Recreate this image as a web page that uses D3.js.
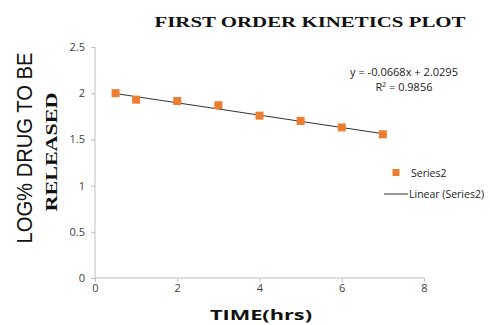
<!DOCTYPE html>
<html>
<head>
<meta charset="utf-8">
<script src="https://cdn.jsdelivr.net/npm/d3@7"></script>
<style>
  body { margin: 0; background: #fff; }
  svg { display: block; }
</style>
</head>
<body>
<svg width="490" height="325"></svg>
<script>
// data
const times = [0.5, 1, 2, 3, 4, 5, 6, 7];
const logReleased = [2.0, 1.93, 1.915, 1.87, 1.757, 1.70, 1.63, 1.555];
const xTicks = [0, 2, 4, 6, 8];
const yTicks = [0, 0.5, 1, 1.5, 2, 2.5];
const slope = -0.0668, intercept = 2.0295;

const svg = d3.select('svg');

const x = d3.scaleLinear().domain([0, 8]).range([95, 424]);
const y = d3.scaleLinear().domain([0, 2.5]).range([278, 47]);

// axes
const yAxis = svg.append('g').attr('transform', 'translate(95,0)')
  .call(d3.axisLeft(y).tickValues(yTicks).tickSize(4).tickPadding(6)
    .tickFormat(d3.format('')));
const xAxis = svg.append('g').attr('transform', 'translate(0,278)')
  .call(d3.axisBottom(x).tickValues(xTicks).tickSize(4).tickPadding(2));

[yAxis, xAxis].forEach(function(a) {
  a.select('.domain').remove();
  a.selectAll('line').attr('stroke', '#c0c0c0');
  a.selectAll('text').attr('fill', '#404040')
    .style('font-family', 'Open Sans, sans-serif').style('font-size', '11px');
});
// axis lines without end caps
svg.append('line').attr('x1', 95).attr('x2', 95).attr('y1', y(2.5)).attr('y2', y(0))
  .attr('stroke', '#c0c0c0');
svg.append('line').attr('x1', x(0)).attr('x2', x(8)).attr('y1', y(0)).attr('y2', y(0))
  .attr('stroke', '#c0c0c0');

// trendline
svg.append('line')
  .attr('x1', x(times[0])).attr('y1', y(slope * times[0] + intercept))
  .attr('x2', x(times[times.length - 1]))
  .attr('y2', y(slope * times[times.length - 1] + intercept))
  .attr('stroke', '#333').attr('stroke-width', 1);

// markers
svg.selectAll('rect.pt').data(times).enter().append('rect')
  .attr('class', 'pt')
  .attr('x', function(d) { return x(d) - 4; })
  .attr('y', function(d, i) { return y(logReleased[i]) - 4; })
  .attr('width', 8).attr('height', 8)
  .attr('fill', '#ED7D31');

// title
svg.append('text').attr('x', 310).attr('y', 27).attr('text-anchor', 'middle')
  .attr('textLength', 311).attr('lengthAdjust', 'spacingAndGlyphs')
  .style('font-family', 'Liberation Serif, serif').style('font-weight', 'bold')
  .style('font-size', '15px').attr('fill', '#111')
  .text('FIRST ORDER KINETICS PLOT');

// y title, two lines
svg.append('text').attr('transform', 'translate(32,148) rotate(-90)')
  .attr('text-anchor', 'middle')
  .attr('textLength', 191).attr('lengthAdjust', 'spacingAndGlyphs')
  .style('font-family', 'Liberation Sans, Arial, sans-serif')
  .style('font-size', '22px').attr('fill', '#111')
  .text('LOG% DRUG TO BE');
svg.append('text').attr('transform', 'translate(57,152) rotate(-90)')
  .attr('text-anchor', 'middle')
  .attr('textLength', 119).attr('lengthAdjust', 'spacingAndGlyphs')
  .style('font-family', 'Liberation Serif, serif').style('font-weight', 'bold')
  .style('font-size', '17px').attr('fill', '#111')
  .text('RELEASED');

// x title
svg.append('text').attr('x', 261).attr('y', 320).attr('text-anchor', 'middle')
  .attr('textLength', 102).attr('lengthAdjust', 'spacingAndGlyphs')
  .style('font-family', 'Open Sans, sans-serif').style('font-weight', 'bold')
  .style('font-size', '15px').attr('fill', '#111')
  .text('TIME(hrs)');

// equation
const eq = svg.append('g').style('font-family', 'Open Sans, sans-serif')
  .style('font-size', '10.5px').attr('fill', '#222');
eq.append('text').attr('x', 404).attr('y', 76).attr('text-anchor', 'middle')
  .attr('textLength', 108).attr('lengthAdjust', 'spacingAndGlyphs')
  .text('y = -0.0668x + 2.0295');
eq.append('text').attr('x', 404).attr('y', 91).attr('text-anchor', 'middle')
  .attr('textLength', 57).attr('lengthAdjust', 'spacingAndGlyphs')
  .text('R² = 0.9856');

// legend
const lg = svg.append('g').style('font-family', 'Open Sans, sans-serif')
  .style('font-size', '10.5px').attr('fill', '#222');
lg.append('rect').attr('x', 392.5).attr('y', 169).attr('width', 7).attr('height', 7)
  .attr('fill', '#ED7D31');
lg.append('text').attr('x', 411).attr('y', 176.5).text('Series2');
lg.append('line').attr('x1', 384).attr('x2', 408).attr('y1', 194).attr('y2', 194)
  .attr('stroke', '#333').attr('stroke-width', 1);
lg.append('text').attr('x', 409).attr('y', 197.5).text('Linear (Series2)');
</script>
</body>
</html>
